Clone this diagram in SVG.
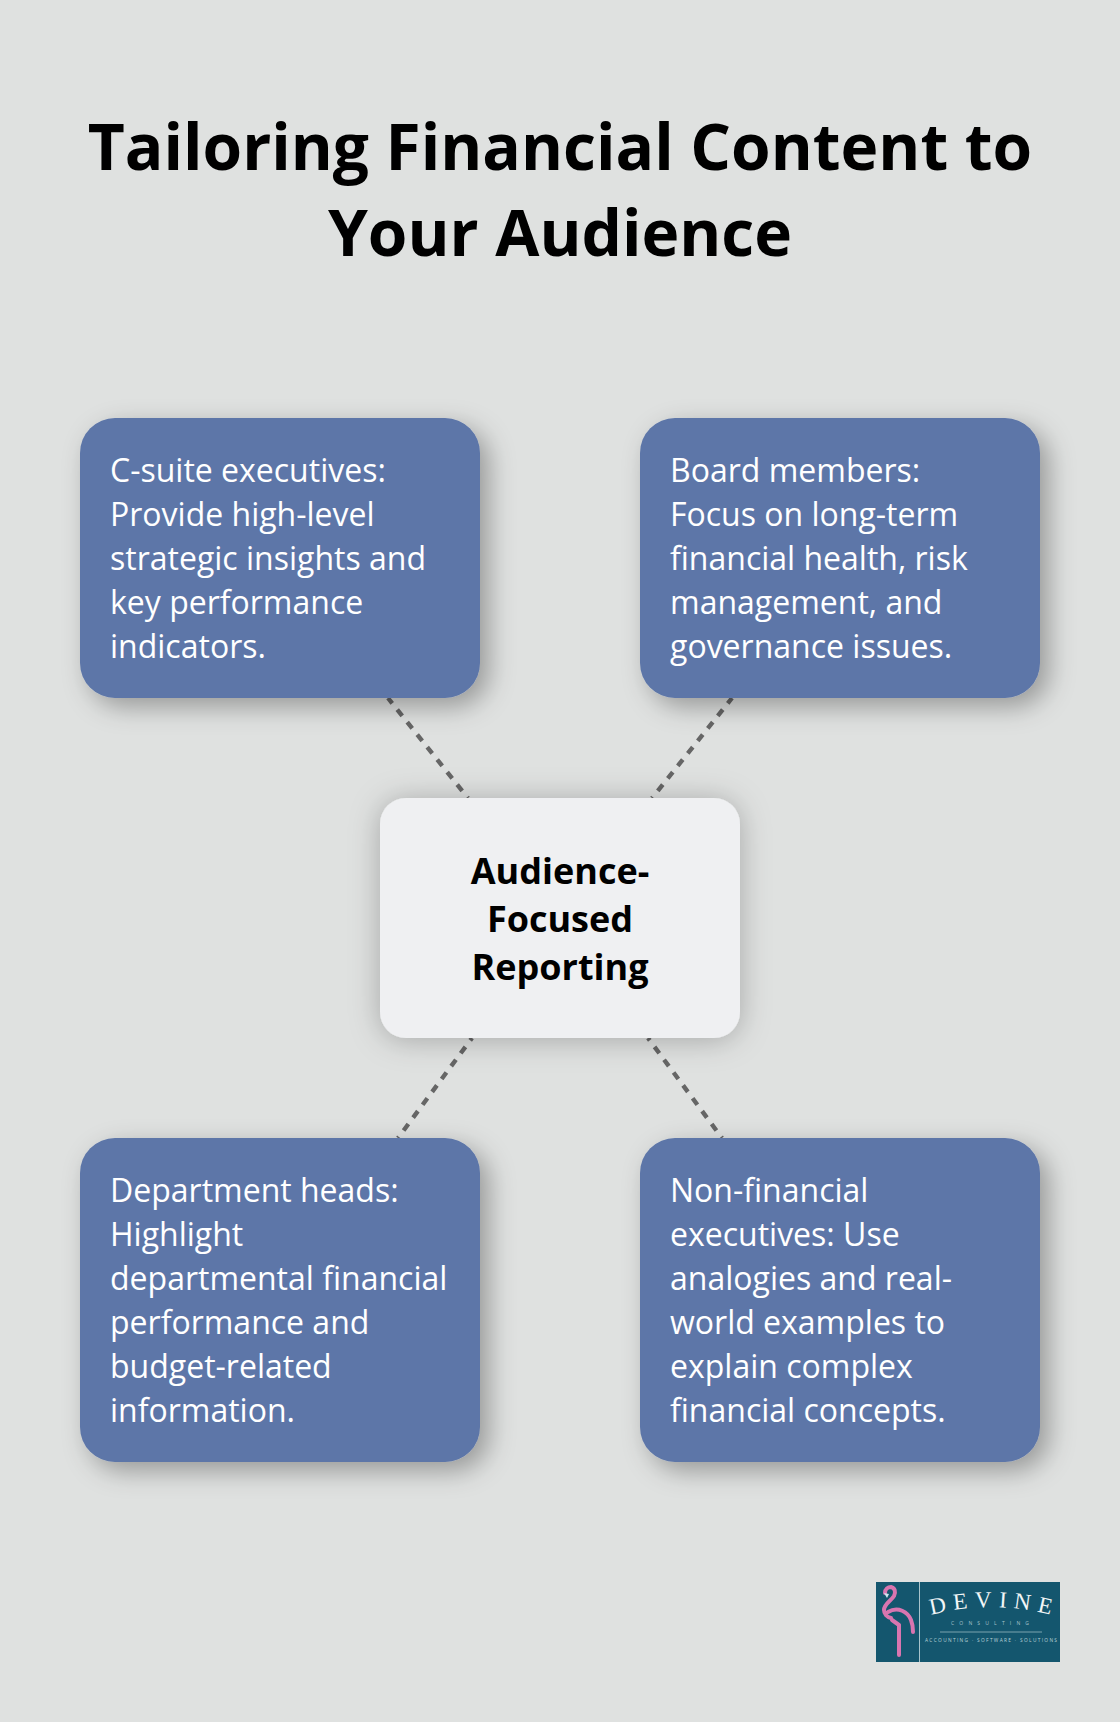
<svg xmlns="http://www.w3.org/2000/svg" width="1120" height="1722" viewBox="0 0 1120 1722">
<style>
text{font-family:"Open Sans","Noto Sans",sans-serif}
.t{font-size:64px;font-weight:700;fill:#000;text-anchor:middle}
.b{font-size:32px;fill:#fff}
.c{font-size:36px;font-weight:700;fill:#000;text-anchor:middle}
.box{fill:#5d76a8;filter:url(#s)}
.ctr{fill:#eff0f2;filter:url(#g)}
.con{stroke:#666;stroke-width:4.400;stroke-dasharray:8 8;fill:none}
.lg{font-family:"Liberation Serif",serif;font-size:23px;fill:#f2f6f7;letter-spacing:7px}
.fl{fill:none;stroke:#d975b0;stroke-width:4;stroke-linecap:round;stroke-linejoin:round}
</style>
<defs>
<filter id="s" x="-20%" y="-20%" width="150%" height="150%"><feDropShadow dx="8.8" dy="8.8" stdDeviation="13" flood-color="#000" flood-opacity=".32"/></filter>
<filter id="g" x="-30%" y="-30%" width="160%" height="160%"><feDropShadow dx="0" dy="2" stdDeviation="15" flood-color="#000" flood-opacity=".26"/></filter>
<path id="arc" d="M931 1615Q991 1599 1056 1616"/>
</defs>
<rect width="1120" height="1722" fill="#dfe1e0"/>
<text class="t" x="560" y="170">Tailoring Financial Content to</text>
<text class="t" x="560" y="256">Your Audience</text>
<g id="connectors">
<line class="con" stroke-dashoffset="1.200" x1="388" y1="698" x2="468" y2="798"/>
<line class="con" stroke-dashoffset="1.200" x1="732" y1="698" x2="652" y2="798"/>
<line class="con" stroke-dashoffset="5" x1="472" y1="1038" x2="398" y2="1138"/>
<line class="con" stroke-dashoffset="5" x1="648" y1="1038" x2="722" y2="1138"/>
</g>
<g id="n1"><rect class="box" x="80" y="418" width="400" height="280" rx="35"/>
<text class="b"><tspan x="110" y="482">C-suite executives:</tspan><tspan x="110" y="526">Provide high-level</tspan><tspan x="110" y="570">strategic insights and</tspan><tspan x="110" y="614">key performance</tspan><tspan x="110" y="658">indicators.</tspan></text></g>
<g id="n2"><rect class="box" x="640" y="418" width="400" height="280" rx="35"/>
<text class="b"><tspan x="670" y="482">Board members:</tspan><tspan x="670" y="526">Focus on long-term</tspan><tspan x="670" y="570">financial health, risk</tspan><tspan x="670" y="614">management, and</tspan><tspan x="670" y="658">governance issues.</tspan></text></g>
<g id="n3"><rect class="ctr" x="380" y="798" width="360" height="240" rx="26"/>
<text class="c"><tspan x="560" y="884">Audience-</tspan><tspan x="560" y="932">Focused</tspan><tspan x="560" y="980">Reporting</tspan></text></g>
<g id="n4"><rect class="box" x="80" y="1138" width="400" height="324" rx="35"/>
<text class="b"><tspan x="110" y="1202">Department heads:</tspan><tspan x="110" y="1246">Highlight</tspan><tspan x="110" y="1290">departmental financial</tspan><tspan x="110" y="1334">performance and</tspan><tspan x="110" y="1378">budget-related</tspan><tspan x="110" y="1422">information.</tspan></text></g>
<g id="n5"><rect class="box" x="640" y="1138" width="400" height="324" rx="35"/>
<text class="b"><tspan x="670" y="1202">Non-financial</tspan><tspan x="670" y="1246">executives: Use</tspan><tspan x="670" y="1290">analogies and real-</tspan><tspan x="670" y="1334">world examples to</tspan><tspan x="670" y="1378">explain complex</tspan><tspan x="670" y="1422">financial concepts.</tspan></text></g>
<g id="logo">
<rect x="876" y="1582" width="184" height="80" fill="#14566e"/>
<line x1="919.500" y1="1582" x2="919.500" y2="1662" stroke="#a8c4cc" stroke-width="1"/>
<path class="fl" d="M885 1593C885 1589 888 1587 891 1587C895 1588 896 1592 894 1596C891 1601 884 1604 884 1610C884 1614 887 1617 891 1618M888 1612C898 1606 908 1612 911 1620C913 1625 913 1629 913 1632M892 1620L899 1625M899 1625V1655"/>
<path d="M884 1593L889 1594L887 1598Z" fill="#cfe6ee"/>
<text class="lg"><textPath href="#arc">DEVINE</textPath></text>
<text x="951" y="1625" font-size="5" fill="#a8c4cc" textLength="78">CONSULTING</text>
<line x1="940" y1="1632" x2="1042" y2="1632" stroke="#a8c4cc" stroke-width=".7"/>
<text x="925" y="1642" font-size="4.800" fill="#b8d2d8" textLength="132">ACCOUNTING · SOFTWARE · SOLUTIONS</text>
</g>
</svg>
